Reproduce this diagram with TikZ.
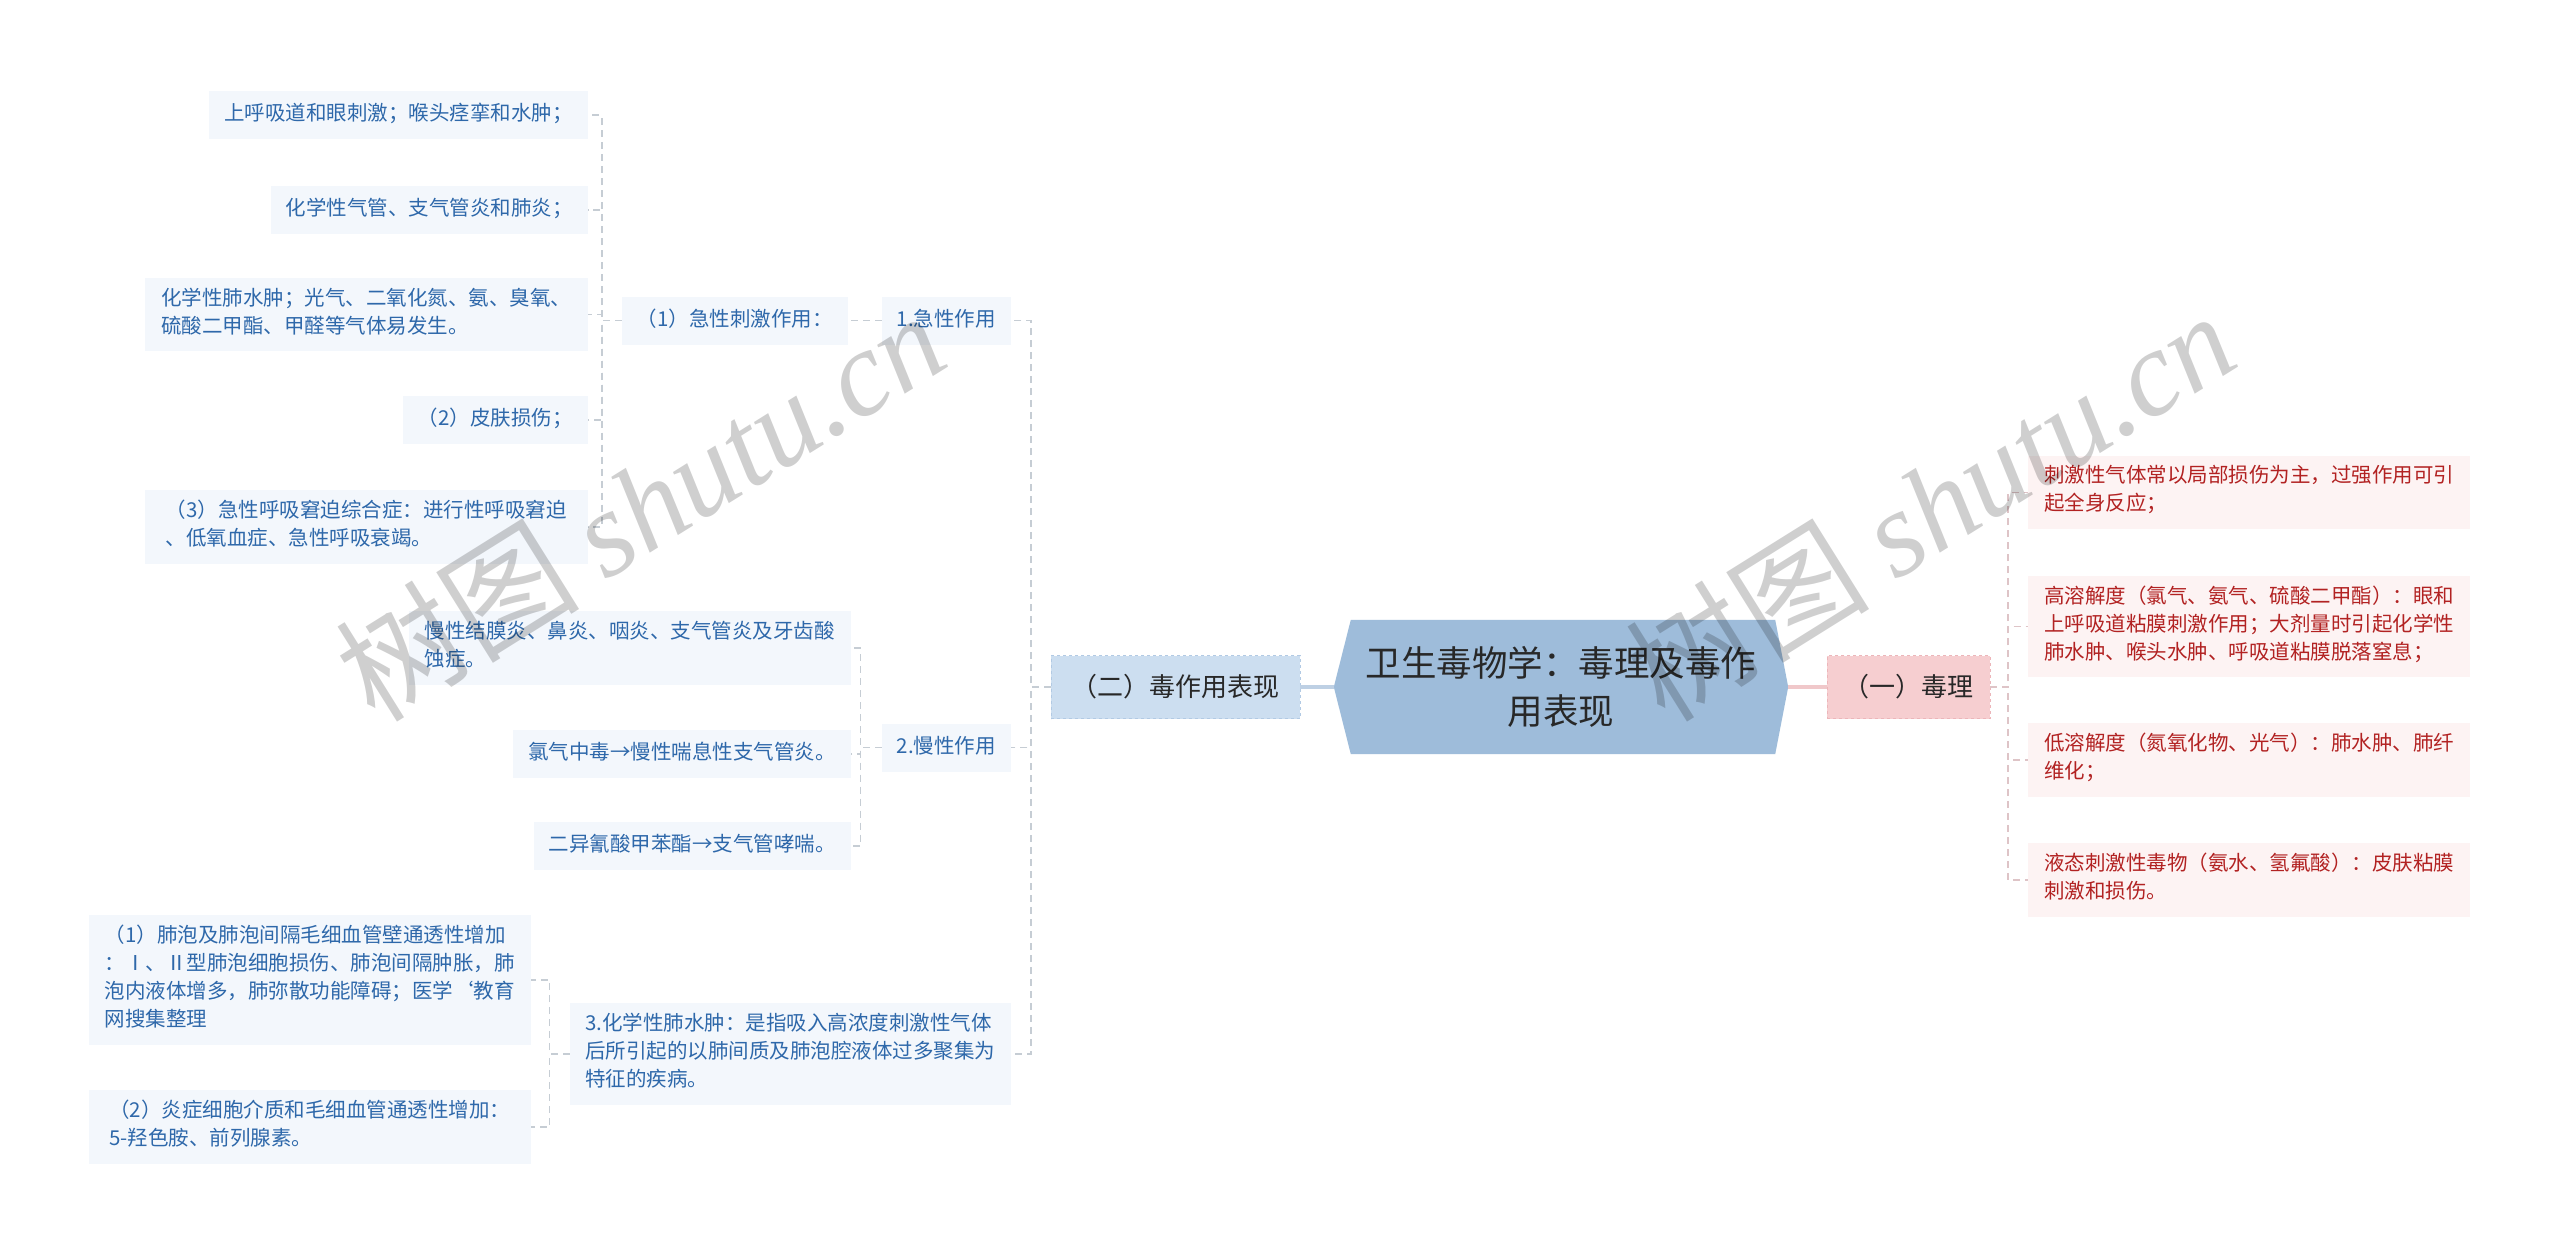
\documentclass[tikz,border=0pt]{standalone}
\usepackage{fontspec}
\setmainfont{Noto Sans CJK SC}
\newfontfamily\cjkwm{Noto Sans CJK SC}
\newfontfamily\wmlatin{Liberation Serif}
\usetikzlibrary{backgrounds}
\definecolor{rootfill}{RGB}{158,188,218}
\definecolor{rootline}{RGB}{190,208,228}
\definecolor{bluebox}{RGB}{204,222,240}
\definecolor{blueborder}{RGB}{178,202,228}
\definecolor{pinkbox}{RGB}{246,206,208}
\definecolor{pinkborder}{RGB}{236,182,186}
\definecolor{pinkline}{RGB}{240,200,202}
\definecolor{leafblue}{RGB}{243,247,252}
\definecolor{textblue}{RGB}{46,104,170}
\definecolor{leafpink}{RGB}{253,243,243}
\definecolor{textred}{RGB}{178,34,34}
\definecolor{linegray}{RGB}{198,205,212}
\definecolor{linepink}{RGB}{222,196,199}
\definecolor{darktext}{RGB}{40,40,40}
\tikzset{
  leafbase/.style={inner xsep=15pt, inner ysep=10pt, align=left,
    font=\fontsize{20.5}{28}\selectfont,
    execute at begin node=\strut, execute at end node=\strut},
  leafL/.style={leafbase, fill=leafblue, text=textblue, anchor=east},
  leafR/.style={leafbase, fill=leafpink, text=textred, anchor=west},
  midbox/.style={inner sep=0pt, minimum height=63pt, text=darktext, dashed,
    font=\fontsize{26}{36}\selectfont},
  midL/.style={midbox, fill=bluebox, draw=blueborder, minimum width=249pt},
  midR/.style={midbox, fill=pinkbox, draw=pinkborder, minimum width=163pt},
  rootnode/.style={inner sep=0pt, minimum width=454pt, minimum height=134pt,
    align=center, text=darktext, font=\fontsize{35.5}{48}\selectfont},
  dashL/.style={draw=linegray, line width=1.6pt, dash pattern=on 7pt off 5pt},
  dashR/.style={draw=linepink, line width=1.6pt, dash pattern=on 7pt off 5pt},
  wmark/.style={text=black, opacity=0.19, font=\fontsize{122}{130}\selectfont}
}
\begin{document}
\begin{tikzpicture}[x=1pt,y=-1pt]
\useasboundingbox (0,0) rectangle (2560,1255);
% root
\node[rootnode] (root) at (1561,687) {卫生毒物学：毒理及毒作\\用表现};
\begin{scope}[on background layer]
\fill[white] (0,0) rectangle (2560,1255);
\fill[rootfill] (root.west) -- ([xshift=17pt]root.north west) -- ([xshift=-13pt]root.north east)
  -- (root.east) -- ([xshift=-13pt]root.south east) -- ([xshift=17pt]root.south west) -- cycle;
\end{scope}
\node[midL] (two) at (1175.5,687) {（二）毒作用表现};
\node[midR] (one) at (1908.5,687) {（一）毒理};
\draw[rootline, line width=4pt] (two.east) -- (root.west);
\draw[pinkline, line width=4pt] (root.east) -- (one.west);

% level 2 left
\node[leafL] (a1) at (1011,320.5) {1.急性作用};
\node[leafL] (a2) at (1011,747.5) {2.慢性作用};
\node[leafL, minimum width=441pt] (a3) at (1011,1054) {3.化学性肺水肿：是指吸入高浓度刺激性气体\\后所引起的以肺间质及肺泡腔液体过多聚集为\\特征的疾病。};
\draw[dashL] (two.west) -- ++(-20,0) |- (a1.east);
\draw[dashL] (two.west) -- ++(-20,0) |- (a2.east);
\draw[dashL] (two.west) -- ++(-20,0) |- (a3.east);

% acute
\node[leafL] (b1) at (848,320.5) {（1）急性刺激作用：};
\draw[dashL] (a1.west) -- (b1.east);
\node[leafL] (c1) at (588,115) {上呼吸道和眼刺激；喉头痉挛和水肿；};
\node[leafL] (c2) at (588,210) {化学性气管、支气管炎和肺炎；};
\node[leafL, minimum width=443pt] (c3) at (588,314.5) {化学性肺水肿；光气、二氧化氮、氨、臭氧、\\硫酸二甲酯、甲醛等气体易发生。};
\node[leafL] (c4) at (588,420) {（2）皮肤损伤；};
\node[leafL, minimum width=443pt] (c5) at (588,527) {（3）急性呼吸窘迫综合症：进行性呼吸窘迫\\、低氧血症、急性呼吸衰竭。};
\foreach \c in {c1,c2,c3,c4,c5}
  \draw[dashL] (b1.west) -- ++(-20,0) |- (\c.east);

% chronic
\node[leafL, minimum width=442pt] (d1) at (851,648) {慢性结膜炎、鼻炎、咽炎、支气管炎及牙齿酸\\蚀症。};
\node[leafL] (d2) at (851,754) {氯气中毒→慢性喘息性支气管炎。};
\node[leafL] (d3) at (851,846) {二异氰酸甲苯酯→支气管哮喘。};
\foreach \d in {d1,d2,d3}
  \draw[dashL] (a2.west) -- ++(-21,0) |- (\d.east);

% pulmonary edema
\node[leafL, minimum width=442pt] (e1) at (531,980) {（1）肺泡及肺泡间隔毛细血管壁通透性增加\\：Ⅰ、Ⅱ型肺泡细胞损伤、肺泡间隔肿胀，肺\\泡内液体增多，肺弥散功能障碍；医学`教育\\网搜集整理};
\node[leafL, minimum width=442pt] (e2) at (531,1127) {（2）炎症细胞介质和毛细血管通透性增加：\\5-羟色胺、前列腺素。};
\foreach \e in {e1,e2}
  \draw[dashL] (a3.west) -- ++(-20,0) |- (\e.east);

% right side
\node[leafR, minimum width=442pt] (r1) at (2028,492.5) {刺激性气体常以局部损伤为主，过强作用可引\\起全身反应；};
\node[leafR, minimum width=442pt] (r2) at (2028,626.5) {高溶解度（氯气、氨气、硫酸二甲酯）：眼和\\上呼吸道粘膜刺激作用；大剂量时引起化学性\\肺水肿、喉头水肿、呼吸道粘膜脱落窒息；};
\node[leafR, minimum width=442pt] (r3) at (2028,760) {低溶解度（氮氧化物、光气）：肺水肿、肺纤\\维化；};
\node[leafR, minimum width=442pt] (r4) at (2028,880) {液态刺激性毒物（氨水、氢氟酸）：皮肤粘膜\\刺激和损伤。};
\foreach \r in {r1,r2,r3,r4}
  \draw[dashR] (one.east) -- ++(18,0) |- (\r.west);

% watermarks
\node[wmark, rotate=32] (wm1) at (640,505) {{\cjkwm 树图} {\wmlatin\itshape shutu.cn}};
\node[wmark, rotate=32] (wm2) at (1930,505) {{\cjkwm 树图} {\wmlatin\itshape shutu.cn}};
\end{tikzpicture}
\end{document}
